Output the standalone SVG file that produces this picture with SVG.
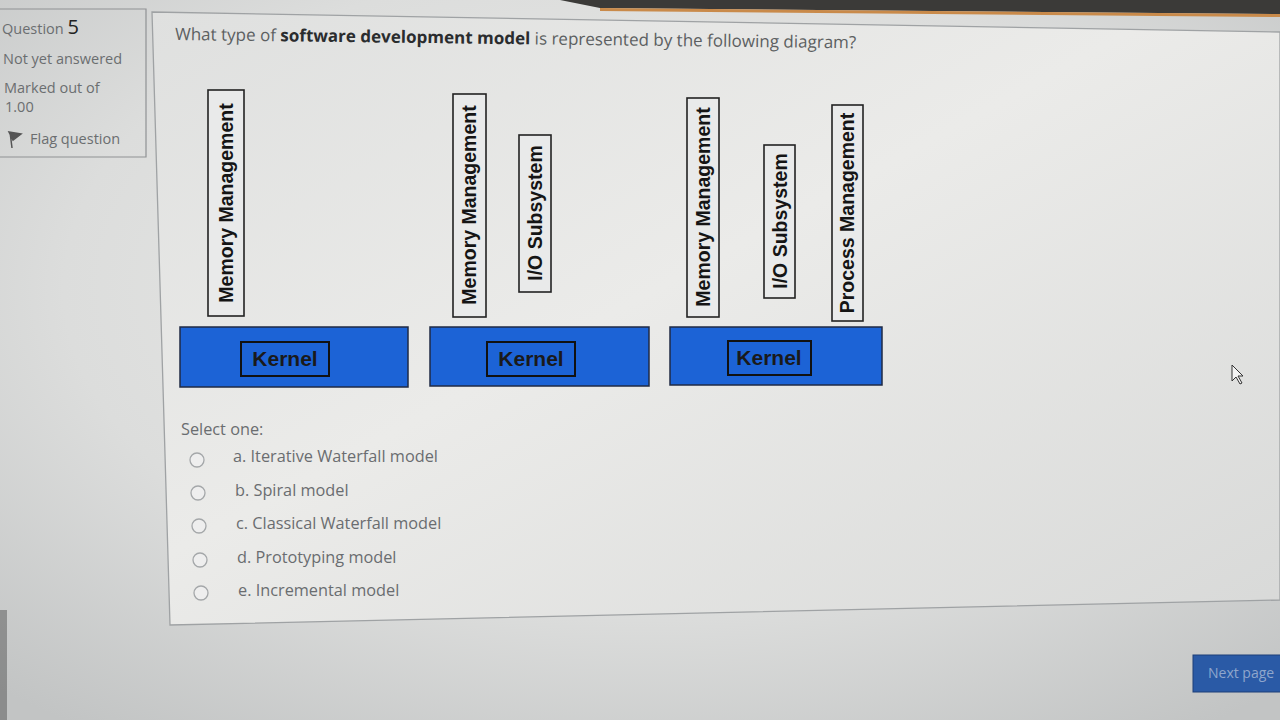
<svg xmlns="http://www.w3.org/2000/svg" width="1280" height="720" viewBox="0 0 1280 720">
<defs>
<radialGradient id="bg" cx="0.5" cy="0.4" r="0.75">
<stop offset="0" stop-color="#ececea"/>
<stop offset="0.6" stop-color="#dcdddc"/>
<stop offset="1" stop-color="#c2c4c4"/>
</radialGradient>
<linearGradient id="panel" x1="0" y1="0" x2="1" y2="1">
<stop offset="0" stop-color="#dfe0df"/>
<stop offset="0.45" stop-color="#ebebe9"/>
<stop offset="1" stop-color="#d8d9d8"/>
</linearGradient>
<style>
.side{font-family:"Open Sans","Liberation Sans",sans-serif;fill:#6b6e70;font-size:14.5px}
.q{font-family:"Open Sans","Liberation Sans",sans-serif;fill:#5c5f61;font-size:17px}
.qb{font-weight:bold;fill:#2a2c2e}
.opt{font-family:"Open Sans","Liberation Sans",sans-serif;fill:#6a6d70;font-size:16.3px}
.kern{fill:#1c63d6;stroke:#1f2a44;stroke-width:1.5}
.kin{fill:none;stroke:#111;stroke-width:2}
.kt{font-family:"Liberation Sans",Arial,sans-serif;font-weight:bold;font-size:21px;fill:#1a1a1a;text-anchor:middle}
.vbox{fill:#e9eaea;stroke:#222;stroke-width:1.6}
.vt{font-family:"Liberation Sans",Arial,sans-serif;font-weight:bold;font-size:19.5px;fill:#151515;text-anchor:middle}
.radio{fill:#eeeeee;stroke:#a4a7a9;stroke-width:1.3}
</style>
</defs>
<rect width="1280" height="720" fill="url(#bg)"/>
<polygon points="560,0 1280,0 1280,14 600,8" fill="#3b3a38"/>
<polygon points="600,8 1280,14 1280,17 600,11" fill="#c98a4a"/>
<rect x="0" y="610" width="7" height="110" fill="#4a4a4a" opacity="0.45"/>

<g id="sidebar">
<polyline points="0,9 146,9 146,157 0,157" fill="none" stroke="#8f9294" stroke-width="1.2"/>
<text class="side" x="2" y="34" font-size="13">Question <tspan font-size="20" fill="#222">5</tspan></text>
<text class="side" x="3" y="64">Not yet answered</text>
<text class="side" x="4" y="93">Marked out of</text>
<text class="side" x="5" y="112" font-size="13">1.00</text>
<path d="M9,132 L21,134 L13,140 Z M10,132 L12,148" fill="#555" stroke="#555" stroke-width="1.5"/>
<text class="side" x="30" y="144">Flag question</text>
</g>

<g id="panel">
<polygon points="152,12 1280,32 1280,600 170,625" fill="url(#panel)" stroke="#9fa2a4" stroke-width="1.3"/>
</g>

<g id="question">
<text class="q" x="175" y="40" transform="rotate(0.7 175 40)">What type of <tspan class="qb">software development model</tspan> is represented by the following diagram?</text>
</g>

<g id="kernel1">
<rect class="kern" x="180" y="327" width="228" height="60"/>
<rect class="kin" x="241" y="342" width="88" height="34"/>
<text class="kt" x="285" y="366">Kernel</text>
</g>
<g id="kernel2">
<rect class="kern" x="430" y="327" width="219" height="59"/>
<rect class="kin" x="487" y="342" width="88" height="34"/>
<text class="kt" x="531" y="366">Kernel</text>
</g>
<g id="kernel3">
<rect class="kern" x="670" y="327" width="212" height="58"/>
<rect class="kin" x="728" y="341" width="83" height="34"/>
<text class="kt" x="769" y="365">Kernel</text>
</g>

<g id="mem1">
<rect class="vbox" x="208" y="90" width="36" height="226"/>
<text class="vt" transform="translate(233 203) rotate(-90)">Memory Management</text>
</g>
<g id="mem2">
<rect class="vbox" x="453" y="94" width="33" height="223"/>
<text class="vt" transform="translate(476 205) rotate(-90)">Memory Management</text>
</g>
<g id="io2">
<rect class="vbox" x="519" y="135" width="32" height="157"/>
<text class="vt" transform="translate(542 213) rotate(-90)">I/O Subsystem</text>
</g>
<g id="mem3">
<rect class="vbox" x="687" y="98" width="32" height="219"/>
<text class="vt" transform="translate(710 207) rotate(-90)">Memory Management</text>
</g>
<g id="io3">
<rect class="vbox" x="764" y="145" width="31" height="153"/>
<text class="vt" transform="translate(787 221) rotate(-90)">I/O Subsystem</text>
</g>
<g id="proc3">
<rect class="vbox" x="832" y="105" width="31" height="216"/>
<text class="vt" transform="translate(854 213) rotate(-90)">Process Management</text>
</g>

<g id="options">
<text class="opt" x="181" y="435">Select one:</text>
<circle class="radio" cx="197" cy="460" r="7"/>
<text class="opt" x="233" y="462">a. Iterative Waterfall model</text>
<circle class="radio" cx="198" cy="493" r="7"/>
<text class="opt" x="235" y="496">b. Spiral model</text>
<circle class="radio" cx="199" cy="526" r="7"/>
<text class="opt" x="236" y="529">c. Classical Waterfall model</text>
<circle class="radio" cx="200" cy="560" r="7"/>
<text class="opt" x="237" y="563">d. Prototyping model</text>
<circle class="radio" cx="201" cy="593" r="7"/>
<text class="opt" x="238" y="596">e. Incremental model</text>
</g>

<g id="next">
<rect x="1193" y="655" width="95" height="37" fill="#2a5aa6" stroke="#1d3f78" stroke-width="1"/>
<text x="1208" y="678" font-family="Open Sans, Liberation Sans, sans-serif" font-size="14" fill="#8fa6cc">Next page</text>
</g>

<g id="cursor">
<path d="M1232,365 L1232,381 L1236,377 L1240,384 L1242,383 L1238,376 L1243,376 Z" fill="#f4f4f4" stroke="#333" stroke-width="1"/>
</g>
</svg>
